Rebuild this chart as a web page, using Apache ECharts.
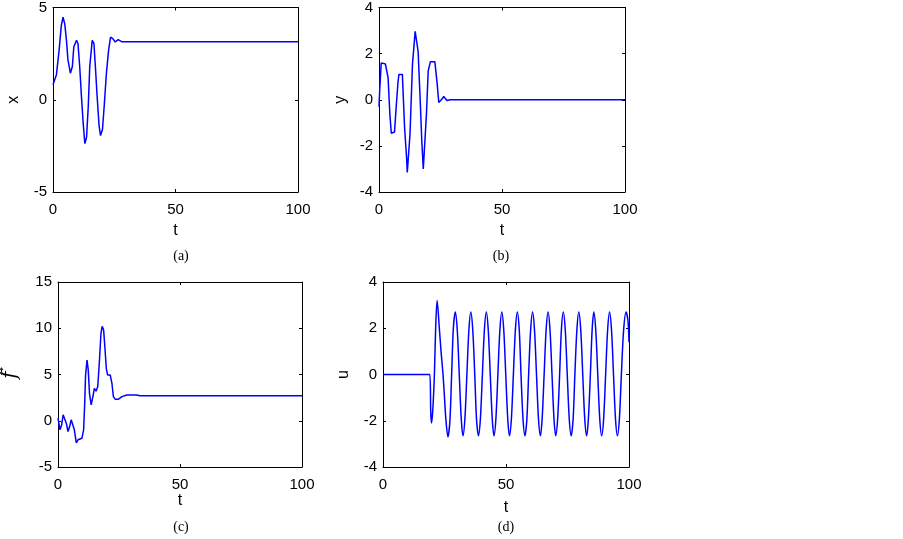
<!DOCTYPE html>
<html>
<head>
<meta charset="utf-8">
<script src="https://cdn.jsdelivr.net/npm/echarts@6/dist/echarts.min.js"></script>
<style>
html,body{margin:0;padding:0;background:#fff;}
#main{width:903px;height:539px;}
</style>
</head>
<body>
<div id="main"></div>
<script>
// x axis ticks (all panels)
var tTicks = [0, 50, 100];

// (a) x(t)
var aT = [0, 1.4, 2.5, 3.4, 4.1, 4.8, 5.5, 6.1, 7.1, 7.9, 8.5, 9.6, 10.2, 10.9, 11.6, 12.3, 13.0, 13.7, 14.4, 15.0, 16.0, 16.7, 17.3, 18.0, 18.8, 19.4, 20.2, 20.9, 21.8, 22.7, 23.5, 24.5, 25.4, 26.6, 28.0, 100];
var aV = [0.82, 1.36, 2.69, 4.03, 4.47, 4.11, 3.22, 2.16, 1.44, 1.8, 2.87, 3.22, 3.05, 1.8, 0.2, -1.23, -2.38, -2.03, -0.34, 1.8, 3.22, 3.05, 1.8, 0.2, -1.4, -1.94, -1.6, -0.34, 1.44, 2.69, 3.4, 3.3, 3.13, 3.26, 3.15, 3.15];

// (b) y(t)
var bT = [0, 0.3, 0.9, 2.6, 3.7, 4.4, 5.0, 6.3, 7.0, 7.7, 8.1, 9.5, 10.4, 11.2, 11.5, 12.2, 12.6, 13.6, 14.7, 15.2, 15.9, 16.7, 17.4, 18.0, 18.4, 19.3, 20.0, 20.9, 22.7, 23.6, 24.3, 25.6, 26.3, 27.6, 28.9, 100];
var bV = [-0.3, 0.45, 1.6, 1.55, 0.95, -0.6, -1.45, -1.4, -0.3, 0.74, 1.1, 1.1, -1.2, -2.5, -3.15, -3.1, -1.5, 1.53, 2.97, 2.9, 2.1, 0.1, -1.8, -3.0, -3.0, -0.6, 1.25, 1.65, 1.65, 0.74, -0.12, 0.03, 0.14, -0.03, 0.0, 0.0];

// (c) f-hat(t)
var cT = [0, 0.8, 1.5, 2.1, 2.8, 3.4, 4.1, 4.8, 5.4, 6.1, 6.7, 7.5, 8.2, 8.9, 9.8, 10.5, 10.9, 11.3, 11.9, 12.4, 12.9, 13.6, 14.3, 14.9, 15.6, 16.3, 17.0, 17.6, 18.1, 18.7, 19.2, 19.8, 20.3, 21.4, 22.1, 22.7, 23.4, 24.8, 26.2, 28.2, 32.3, 33.6, 100];
var cV = [0.28, -0.98, -0.44, 0.64, 0.82, -0.26, -1.16, -0.6, 0.1, 0.1, -0.98, -2.4, -2.06, -1.9, -1.9, -0.98, 1.53, 4.95, 6.56, 5.49, 2.97, 1.71, 2.61, 3.51, 3.2, 3.7, 6.56, 9.44, 10.2, 9.8, 8.0, 5.67, 4.95, 4.95, 4.05, 2.61, 2.33, 2.33, 2.61, 2.79, 2.79, 2.7, 2.7];

// (d) u(t)
var dT = [0, 19.0, 19.4, 19.7, 20.2, 20.9, 21.4, 22.0, 22.9, 23.6, 24.4, 25.0, 25.6, 26.4, 27.2, 27.9, 28.6, 29.4,
  30.2, 31.0, 31.8, 32.5, 33.3, 34.1, 34.9, 35.7,
  36.5, 37.3, 38.0, 38.8, 39.6, 40.4, 41.2, 42.0,
  42.8, 43.6, 44.4, 45.1, 45.9, 46.7, 47.5, 48.3,
  49.1, 49.9, 50.7, 51.4, 52.2, 53.0, 53.8, 54.6,
  55.4, 56.1, 56.9, 57.7, 58.5, 59.2, 60.0, 60.8,
  61.6, 62.4, 63.2, 64.0, 64.7, 65.5, 66.3, 67.1,
  67.9, 68.7, 69.5, 70.2, 71.0, 71.8, 72.5, 73.3,
  74.1, 74.9, 75.7, 76.5, 77.3, 78.0, 78.8, 79.6,
  80.4, 81.2, 82.0, 82.8, 83.5, 84.3, 85.0, 85.7,
  86.5, 87.3, 88.1, 88.9, 89.7, 90.5, 91.3, 92.1,
  92.9, 93.7, 94.5, 95.3, 96.1, 96.9, 97.8, 98.8,
  99.6, 100];
var dV = [0, 0, -1.6, -2.1, -1.6, 0, 2.0, 3.2, 2.0, 1.0, 0, -1.0, -2.0, -2.7, -2.0, 0, 2.0, 2.7,
  1.9, 0, -1.9, -2.65, -1.9, 0, 1.9, 2.7,
  1.9, 0, -1.9, -2.65, -1.9, 0, 1.9, 2.7,
  1.9, 0, -1.9, -2.65, -1.9, 0, 1.9, 2.7,
  1.9, 0, -1.9, -2.65, -1.9, 0, 1.9, 2.7,
  1.9, 0, -1.9, -2.65, -1.9, 0, 1.9, 2.7,
  1.9, 0, -1.9, -2.65, -1.9, 0, 1.9, 2.7,
  1.9, 0, -1.9, -2.65, -1.9, 0, 1.9, 2.7,
  1.9, 0, -1.9, -2.65, -1.9, 0, 1.9, 2.7,
  1.9, 0, -1.9, -2.65, -1.9, 0, 1.9, 2.7,
  1.9, 0, -1.9, -2.65, -1.9, 0, 1.9, 2.7,
  1.9, 0, -1.9, -2.65, -1.9, 0, 1.9, 2.7,
  2.3, 1.4];

var yNames = ['x', 'y', '', 'u'];   // (c) name is drawn as f with a hat below
var yMin = [-5, -4, -5, -4];
var yMax = [5, 4, 15, 4];
var yStep = [5, 2, 5, 2];
var captions = ['(a)', '(b)', '(c)', '(d)'];

function pairs(ts, vs) {
    var out = [];
    for (var i = 0; i < ts.length; i++) {
        out.push([ts[i], vs[i]]);
    }
    return out;
}

var myChart = echarts.init(document.getElementById('main'));

var grids = [
    {left: 53, top: 5, width: 245, height: 187},
    {left: 379, top: 6, width: 246, height: 186},
    {left: 58, top: 282, width: 244, height: 185},
    {left: 383, top: 282, width: 246, height: 185}
];
var capPos = [[181, 256], [501, 256], [181, 527], [506, 527]];
var tGap = [31, 31, 25, 33];
var yGap = [31, 30, 0, 31];
var smooth = [false, false, false, 0.3];
var series_data = [pairs(aT, aV), pairs(bT, bV), pairs(cT, cV), pairs(dT, dV)];

var lbl = {color: '#000', fontSize: 15, fontFamily: 'Liberation Sans'};
var axLine = {show: true, onZero: false, lineStyle: {color: '#000', width: 1}};
var tick = {show: true, inside: true, length: 3, lineStyle: {color: '#000'}};
var nameStyle = {color: '#000', fontSize: 16, fontFamily: 'Liberation Sans'};

var xAxes = [], yAxes = [], series = [], graphic = [];
for (var i = 0; i < 4; i++) {
    // bottom + top
    xAxes.push({
        type: 'value', gridIndex: i, position: 'bottom',
        min: tTicks[0], max: tTicks[tTicks.length - 1], interval: tTicks[1] - tTicks[0],
        name: 't', nameLocation: 'middle', nameGap: tGap[i], nameTextStyle: nameStyle,
        axisLine: axLine, axisTick: tick,
        axisLabel: Object.assign({margin: 10}, lbl),
        splitLine: {show: false}
    });
    xAxes.push({
        type: 'value', gridIndex: i, position: 'top',
        min: tTicks[0], max: tTicks[tTicks.length - 1], interval: tTicks[1] - tTicks[0],
        axisLine: axLine, axisTick: tick, axisLabel: {show: false}, splitLine: {show: false}
    });
    // left + right
    yAxes.push({
        type: 'value', gridIndex: i, position: 'left',
        min: yMin[i], max: yMax[i], interval: yStep[i],
        name: yNames[i], nameLocation: 'middle', nameGap: yGap[i], nameTextStyle: nameStyle,
        axisLine: axLine, axisTick: tick,
        axisLabel: Object.assign({margin: 6}, lbl),
        splitLine: {show: false}
    });
    yAxes.push({
        type: 'value', gridIndex: i, position: 'right',
        min: yMin[i], max: yMax[i], interval: yStep[i],
        axisLine: axLine, axisTick: tick, axisLabel: {show: false}, splitLine: {show: false}
    });
    series.push({
        type: 'line', xAxisIndex: i * 2, yAxisIndex: i * 2,
        data: series_data[i], showSymbol: false, smooth: smooth[i],
        lineStyle: {color: '#0000ff', width: 1.5}
    });
    graphic.push({
        type: 'text', x: capPos[i][0], y: capPos[i][1],
        style: {text: captions[i], fill: '#000', fontSize: 14, fontFamily: 'Liberation Serif',
                align: 'center', verticalAlign: 'middle'}
    });
}

// f-hat label of panel (c), rotated like the other y labels
graphic.push({
    type: 'text', x: 11, y: 375, rotation: Math.PI / 2,
    style: {text: 'f', fill: '#000', fontSize: 20, fontStyle: 'italic', fontFamily: 'DejaVu Serif',
            align: 'center', verticalAlign: 'middle'}
});
graphic.push({
    type: 'text', x: 5, y: 371, rotation: Math.PI / 2,
    style: {text: '^', fill: '#000', fontSize: 13, fontFamily: 'DejaVu Sans',
            align: 'center', verticalAlign: 'middle'}
});

myChart.setOption({
    animation: false,
    backgroundColor: '#fff',
    grid: grids,
    xAxis: xAxes,
    yAxis: yAxes,
    series: series,
    graphic: graphic
});
</script>
</body>
</html>
